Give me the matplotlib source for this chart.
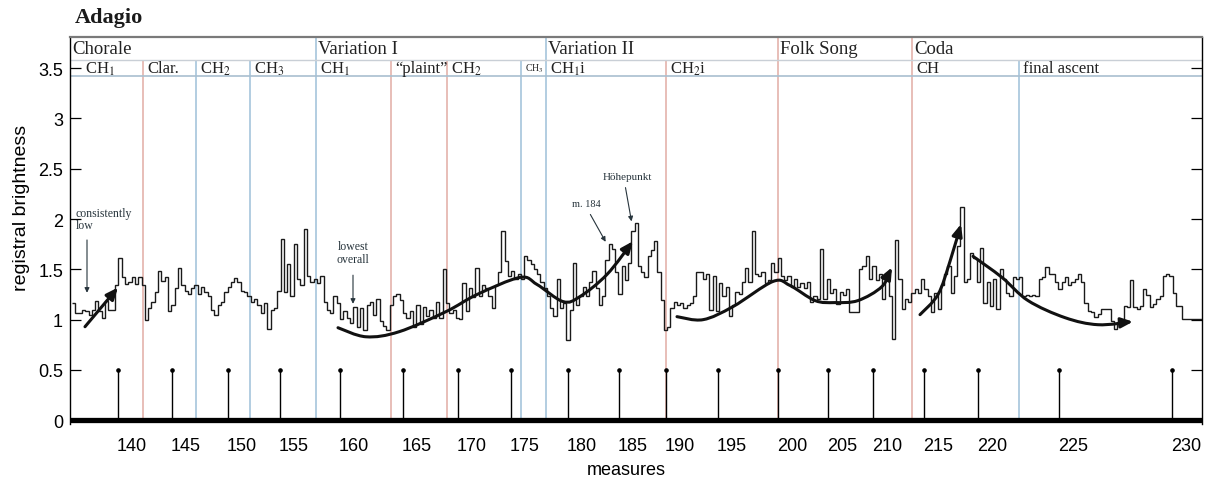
import numpy as np
import matplotlib
matplotlib.use("Agg")
import matplotlib.pyplot as plt
from matplotlib.path import Path
from matplotlib.patches import FancyArrowPatch
import matplotlib.transforms as mtransforms

plt.rcParams['mathtext.fontset'] = 'stix'

# ---------------- data ----------------
# x positions are along the piece (time-like units); measure numbers label them
measure_labels = [140, 145, 150, 155, 160, 165, 170, 175, 180, 185, 190, 195,
                  200, 205, 210, 215, 220, 225, 230]
measure_pos = [50, 104, 160, 212, 272, 335, 390, 443, 500, 551, 598, 650,
               710, 760, 805, 856, 910, 991, 1104]

# registral brightness step values, three consecutive spans
span1 = (4, 378)
bright1 = [1.17, 1.07, 1.07, 1.10, 1.09, 1.05, 1.10, 1.19, 1.09, 1.02,
           1.19, 1.10, 1.10, 1.34, 1.61, 1.42, 1.35, 1.37, 1.42, 1.35,
           1.42, 1.34, 1.00, 1.12, 1.18, 1.28, 1.48, 1.38, 1.42, 1.09,
           1.15, 1.31, 1.51, 1.34, 1.29, 1.26, 1.31, 1.34, 1.26, 1.32,
           1.28, 1.24, 1.10, 1.05, 1.15, 1.18, 1.28, 1.32, 1.37, 1.41,
           1.37, 1.29, 1.28, 1.24, 1.18, 1.21, 1.15, 1.07, 1.17, 0.91,
           1.10, 1.12, 1.29, 1.80, 1.28, 1.55, 1.24, 1.75, 1.40, 1.34,
           1.90, 1.43, 1.37, 1.40, 1.36, 1.43, 1.18, 1.10, 1.07, 1.24,
           1.17, 1.01, 1.09, 1.02, 0.97, 1.13, 0.93, 1.12, 0.90, 1.15,
           1.18, 1.05, 1.21, 0.99, 0.94, 0.90, 1.15, 1.24, 1.26, 1.20,
           1.07, 1.02, 1.09, 0.93, 1.15, 0.96, 1.13, 1.04, 1.10, 1.02,
           1.18, 1.02, 1.50]
span2 = (378, 752)
bright2 = [1.17, 1.07, 1.10, 1.02, 1.01, 1.36, 1.09, 1.31, 1.23, 1.51,
           1.24, 1.34, 1.31, 1.24, 1.12, 1.34, 1.47, 1.88, 1.58, 1.43,
           1.48, 1.40, 1.45, 1.40, 1.63, 1.59, 1.55, 1.50, 1.45, 1.37,
           1.31, 1.24, 1.12, 1.04, 1.40, 1.12, 1.17, 0.80, 1.10, 1.56,
           1.15, 1.24, 1.32, 1.24, 1.37, 1.48, 1.31, 1.15, 1.24, 1.59,
           1.75, 1.70, 1.47, 1.26, 1.53, 1.39, 1.56, 1.88, 1.96, 1.53,
           1.47, 1.42, 1.63, 1.69, 1.78, 1.47, 1.20, 0.90, 0.93, 1.12,
           1.18, 1.15, 1.17, 1.12, 1.15, 1.17, 1.24, 1.47, 1.47, 1.40,
           1.45, 1.10, 1.43, 1.09, 1.36, 1.24, 1.32, 1.04, 1.15, 1.28,
           1.26, 1.37, 1.51, 1.37, 1.88, 1.45, 1.43, 1.47, 1.36, 1.39,
           1.56, 1.47, 1.61, 1.43, 1.39, 1.43, 1.32, 1.40, 1.32, 1.36,
           1.31, 1.37, 1.18, 1.24, 1.21]
span3 = (752, 1134)
bright3 = [1.70, 1.21, 1.40, 1.27, 1.30, 1.16, 1.28, 1.25, 1.30, 1.08,
           1.08, 1.08, 1.50, 1.53, 1.63, 1.40, 1.53, 1.39, 1.45, 1.21,
           1.45, 1.24, 0.81, 1.79, 1.40, 1.11, 1.21, 1.18, 1.27, 1.30,
           1.27, 1.40, 1.30, 1.24, 1.08, 1.27, 1.11, 1.34, 1.45, 1.53,
           1.27, 1.43, 1.73, 2.12, 1.37, 1.40, 1.66, 1.61, 1.37, 1.71,
           1.17, 1.37, 1.14, 1.40, 1.11, 1.50, 1.40, 1.27, 1.24, 1.42,
           1.40, 1.42, 1.24, 1.25, 1.24, 1.25, 1.24, 1.40, 1.42, 1.52,
           1.45, 1.45, 1.37, 1.30, 1.37, 1.42, 1.34, 1.37, 1.40, 1.45,
           1.37, 1.17, 1.09, 1.08, 1.03, 1.06, 1.11, 1.11, 1.11, 0.99,
           0.91, 0.98, 0.99, 1.14, 1.13, 1.39, 1.13, 1.11, 1.14, 1.30,
           1.25, 1.13, 1.16, 1.21, 1.24, 1.43, 1.45, 1.43, 1.27, 1.14,
           1.14, 1.01, 1.01, 1.01, 1.01, 1.01, 1.01]

# formal sections
section_names = ["Chorale", "Variation I", "Variation II", "Folk Song", "Coda"]
section_starts = [2, 248, 478, 710, 844]
section_colors = [None, "#9ec0d8", "#9ec0d8", "#e2aca4", "#e2aca4"]

sub_names = ["CH$_1$", "Clar.", "CH$_2$", "CH$_3$", "CH$_1$", "\u201cplaint\u201d",
             "CH$_2$", "CH$_3$", "CH$_1$i", "CH$_2$i", "CH", "final ascent"]
sub_starts = [2, 75, 128, 182, 248, 323, 379, 453, 478, 598, 844, 951]
minor_lines = [75, 128, 182, 323, 379, 453, 598, 951]
minor_colors = ["#e2aca4", "#9ec0d8", "#9ec0d8", "#e2aca4", "#e2aca4",
                "#9ec0d8", "#e2aca4", "#9ec0d8"]

# trend curves (annotation sketches)
trend1 = [(17, 0.93), (50, 1.32)]
trend2 = [(270, 0.92), (298, 0.83), (331, 0.88), (378, 1.08), (409, 1.25),
          (452, 1.42), (469, 1.35), (495, 1.18), (512, 1.23), (539, 1.45),
          (565, 1.78)]
trend3 = [(609, 1.03), (635, 1.00), (665, 1.13), (705, 1.38), (722, 1.34),
          (747, 1.19), (767, 1.17), (790, 1.19), (814, 1.33), (824, 1.52)]
trend4 = [(852, 1.05), (870, 1.25), (882, 1.58), (893, 1.95)]
trend5 = [(905, 1.63), (934, 1.42), (960, 1.19), (997, 1.02), (1030, 0.95),
          (1065, 0.98)]

YMAX = 3.81
ROW_MID = 3.58
ROW_LOW = 3.42

# ---------------- figure ----------------
W, H = 1207, 485
fig = plt.figure(figsize=(W / 100, H / 100), dpi=100)
ax = fig.add_axes([70 / W, 1 - 425.3 / H, 1132 / W, 387.3 / H])
ax.set_xlim(2, 1134)
ax.set_ylim(-0.04, YMAX)

serif = "Liberation Serif"
sans = "Liberation Sans"
txtc = "#222222"

# step line
edges = np.concatenate([
    np.linspace(span1[0], span1[1], len(bright1) + 1),
    np.linspace(span2[0], span2[1], len(bright2) + 1)[1:],
    np.linspace(span3[0], span3[1], len(bright3) + 1)[1:],
])
vals = np.array(bright1 + bright2 + bright3)
ax.stairs(vals, edges, baseline=None, color="#1a1a1a", lw=1.0, zorder=4)

# section lines
for x, c in zip(section_starts[1:], section_colors[1:]):
    ax.vlines(x, 0, YMAX, colors=c, lw=1.1, zorder=1)
for x, c in zip(minor_lines, minor_colors):
    ax.vlines(x, 0, ROW_MID, colors=c, lw=1.1, zorder=1)
ax.hlines([ROW_MID], 2, 1134, colors="#c9cfd6", lw=1.0, zorder=1)
ax.hlines([ROW_LOW], 2, 1134, colors="#a9bfcf", lw=1.2, zorder=1)

for x, name in zip(section_starts, section_names):
    ax.text(x + 2, 3.70, name, family=serif, fontsize=13.5, color=txtc,
            va="center", ha="left")
for x, name in zip(sub_starts, sub_names):
    fs = 7 if (name == "CH$_3$" and x == 453) else 12
    dx = 15 if x == 2 else 4
    ax.text(x + dx, 3.50, name, family=serif, fontsize=fs, color=txtc,
            va="center", ha="left")

# baseline and stems
ax.axhline(0, color="black", lw=3.8, zorder=5)
ax.vlines(measure_pos, 0, 0.5, colors="black", lw=1.0, zorder=3)
ax.plot(measure_pos, [0.5] * len(measure_pos), "o", color="black",
        ms=2.3, zorder=3)

# trend curves
def smooth_path(pts):
    p = np.array(pts, dtype=float)
    verts = [p[0]]
    codes = [Path.MOVETO]
    for i in range(len(p) - 1):
        p0 = p[i - 1] if i > 0 else p[i]
        p1, p2 = p[i], p[i + 1]
        p3 = p[i + 2] if i + 2 < len(p) else p[i + 1]
        verts += [p1 + (p2 - p0) / 6, p2 - (p3 - p1) / 6, p2]
        codes += [Path.CURVE4] * 3
    return Path(verts, codes)

for tr in [trend1, trend2, trend3, trend4, trend5]:
    arr = FancyArrowPatch(path=smooth_path(tr),
                          arrowstyle="-|>,head_length=0.7,head_width=0.3",
                          mutation_scale=10, lw=2.2, color="#111111",
                          zorder=6)
    ax.add_patch(arr)

# text annotations
ann_c = "#27343c"
ax.text(8, 2.12, "consistently\nlow", family=serif, fontsize=8.5, color=ann_c,
        va="top", ha="left", linespacing=1.0)
ax.annotate("", xy=(19, 1.24), xytext=(19, 1.82),
            arrowprops=dict(arrowstyle="-|>", lw=0.8, color=ann_c,
                            mutation_scale=7))
ax.text(285, 1.79, "lowest\noverall", family=serif, fontsize=8.5, color=ann_c,
        va="top", ha="center", linespacing=1.05)
ax.annotate("", xy=(285, 1.13), xytext=(285, 1.47),
            arrowprops=dict(arrowstyle="-|>", lw=0.8, color=ann_c,
                            mutation_scale=7))
ax.text(518, 2.15, "m. 184", family=serif, fontsize=7.5, color=ann_c,
        va="center", ha="center")
ax.annotate("", xy=(539, 1.75), xytext=(521, 2.07),
            arrowprops=dict(arrowstyle="-|>", lw=0.8, color=ann_c,
                            mutation_scale=7))
ax.text(559, 2.42, "Höhepunkt", family=serif, fontsize=8, color=ann_c,
        va="center", ha="center")
ax.annotate("", xy=(564, 1.95), xytext=(557, 2.34),
            arrowprops=dict(arrowstyle="-|>", lw=0.8, color=ann_c,
                            mutation_scale=7))

# axes styling
for s in ["left", "right"]:
    ax.spines[s].set_color("black")
    ax.spines[s].set_linewidth(1.0)
ax.spines["top"].set_color("#7a7a7a")
ax.spines["top"].set_linewidth(1.6)
ax.spines["bottom"].set_visible(False)

yt = [0, 0.5, 1, 1.5, 2, 2.5, 3, 3.5]
ax.set_yticks(yt, ["0", "0.5", "1", "1.5", "2", "2.5", "3", "3.5"])
ax.tick_params(axis="y", direction="in", length=8, width=0.9, left=True,
               right=True, labelsize=13, pad=5)
ax.set_xticks(measure_pos, [str(m) for m in measure_labels])
ax.tick_params(axis="x", length=0, labelsize=13, pad=9)
off = mtransforms.ScaledTranslation(14 / 100, 0, fig.dpi_scale_trans)
for lbl in ax.get_xticklabels():
    lbl.set_transform(lbl.get_transform() + off)
for lbl in ax.get_xticklabels() + ax.get_yticklabels():
    lbl.set_family(sans)

ax.set_xlabel("measures", family=sans, fontsize=13)
ax.xaxis.set_label_coords((626 - 70) / 1132, -0.095)
ax.set_ylabel("registral brightness", family=sans, fontsize=14)
ax.yaxis.set_label_coords((30 - 70) / 1132, 0.56)

fig.text(75 / W, 1 - 18 / H, "Adagio", family=serif, fontsize=16,
         fontweight="bold", va="center", ha="left", color="#1a1a1a")

fig.savefig("out.png", dpi=100)
